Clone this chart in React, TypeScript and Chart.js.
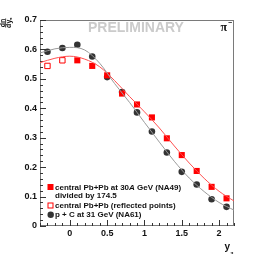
import React, { useEffect, useRef } from "react";
import { Chart, registerables } from "chart.js";

Chart.register(...registerables);

// ---- data ----
const na61Rapidity = [-0.3, -0.1, 0.1, 0.3, 0.5, 0.7, 0.9, 1.1, 1.3, 1.5, 1.7, 1.9, 2.1];
const na61Values = [0.592, 0.605, 0.616, 0.576, 0.506, 0.455, 0.386, 0.321, 0.25, 0.184, 0.141, 0.091, 0.065];

const na49Rapidity = [0.1, 0.3, 0.5, 0.7, 0.9, 1.1, 1.3, 1.5, 1.7, 1.9, 2.1];
const na49Values = [0.563, 0.544, 0.512, 0.45, 0.413, 0.369, 0.298, 0.241, 0.187, 0.133, 0.094];

const reflectedRapidity = [-0.3, -0.1];
const reflectedValues = [0.544, 0.563];

const fitRapidity = [-0.4, -0.2, 0, 0.2, 0.4, 0.6, 0.8, 1.0, 1.2, 1.4, 1.6, 1.8, 2.0, 2.2];
const na61Fit = [0.588, 0.602, 0.607, 0.598, 0.553, 0.484, 0.42, 0.352, 0.285, 0.22, 0.163, 0.117, 0.08, 0.054];
const na49Fit = [0.555, 0.57, 0.577, 0.567, 0.541, 0.494, 0.44, 0.388, 0.333, 0.272, 0.214, 0.162, 0.118, 0.085];

const yTickValues = [0, 0.1, 0.2, 0.3, 0.4, 0.5, 0.6, 0.7];
const yTickLabels = ["0", "0.1", "0.2", "0.3", "0.4", "0.5", "0.6", "0.7"];
const xTickValues = [0, 0.5, 1, 1.5, 2];
const xTickLabels = ["0", "0.5", "1", "1.5", "2"];

const legendLine1 = ["central Pb+Pb at 30", "A", " GeV (NA49)"];
const legendLine2 = "divided by 174.5";
const legendLine3 = "central Pb+Pb (reflected points)";
const legendLine4 = "p + C at 31 GeV (NA61)";
const watermark = "PRELIMINARY";

const SANS = "'Liberation Sans', Arial, Helvetica, sans-serif";
const SERIF = "'Liberation Serif', 'Times New Roman', serif";

const toPoints = (xs: number[], ys: number[]) => xs.map((x, i) => ({ x, y: ys[i] }));

const decorPlugin = {
  id: "decor",
  beforeDatasetsDraw(chart: any) {
    const ctx = chart.ctx as CanvasRenderingContext2D;
    const { left, right, top, bottom } = chart.chartArea;
    const xs = chart.scales.x;
    const ys = chart.scales.y;
    ctx.save();
    // frame
    ctx.strokeStyle = "#7a7a7a";
    ctx.lineWidth = 1;
    ctx.strokeRect(Math.round(left) + 0.5, Math.round(top) + 0.5, Math.round(right - left) - 1, Math.round(bottom - top) - 1);
    // y ticks (inside)
    ctx.strokeStyle = "#333";
    ctx.beginPath();
    for (let i = 0; i <= 35; i++) {
      const v = i * 0.02;
      const py = Math.round(ys.getPixelForValue(v)) + 0.5;
      const len = i % 5 === 0 ? 6 : 3;
      ctx.moveTo(left, py);
      ctx.lineTo(left + len, py);
    }
    // x ticks (inside)
    for (let i = -4; i <= 22; i++) {
      const v = i * 0.1;
      const px = Math.round(xs.getPixelForValue(v)) + 0.5;
      const len = i % 5 === 0 ? 6 : 3;
      ctx.moveTo(px, bottom);
      ctx.lineTo(px, bottom - len);
    }
    ctx.stroke();
    ctx.restore();
  },
  afterDraw(chart: any) {
    const ctx = chart.ctx as CanvasRenderingContext2D;
    const { left, bottom } = chart.chartArea;
    const xs = chart.scales.x;
    const ys = chart.scales.y;
    ctx.save();
    ctx.fillStyle = "#111";
    // y tick labels
    ctx.font = `bold 9px ${SANS}`;
    ctx.textAlign = "right";
    ctx.textBaseline = "middle";
    yTickValues.forEach((v, i) => {
      ctx.fillText(yTickLabels[i], left - 3, ys.getPixelForValue(v));
    });
    // x tick labels
    ctx.textAlign = "center";
    xTickValues.forEach((v, i) => {
      ctx.fillText(xTickLabels[i], xs.getPixelForValue(v), bottom + 7.5);
    });
    // x title
    ctx.textBaseline = "alphabetic";
    ctx.textAlign = "left";
    ctx.font = `bold 10px ${SANS}`;
    ctx.fillText("y", 224.5, 250);
    ctx.font = `bold 5px ${SERIF}`;
    ctx.fillText("π", 230.5, 254);
    // y title (rotated fraction)
    ctx.save();
    ctx.translate(5.3, 23);
    ctx.rotate(-Math.PI / 2);
    ctx.textAlign = "center";
    ctx.font = `bold 7px ${SANS}`;
    ctx.fillText("dn", 0, -0.6);
    ctx.fillRect(-4.5, 0, 9, 0.8);
    ctx.fillText("dy", -0.8, 5.2);
    ctx.textAlign = "left";
    ctx.font = `bold 4.5px ${SERIF}`;
    ctx.fillText("π", 3, 6.8);
    ctx.restore();
    // watermark
    ctx.fillStyle = "#cbcbcb";
    ctx.font = `bold 14px ${SANS}`;
    ctx.fillText(watermark, 88, 32.3);
    // pi minus
    ctx.fillStyle = "#111";
    ctx.font = `bold 12px ${SERIF}`;
    ctx.fillText("π", 220.5, 30.5);
    ctx.font = `bold 7px ${SANS}`;
    ctx.fillText("−", 228, 24.5);
    // legend
    const tx = 55;
    ctx.textBaseline = "middle";
    let x = tx;
    legendLine1.forEach((part, i) => {
      ctx.font = i === 1 ? `italic bold 8px ${SANS}` : `bold 8px ${SANS}`;
      ctx.fillText(part, x, 187.3);
      x += ctx.measureText(part).width;
    });
    ctx.font = `bold 8px ${SANS}`;
    ctx.fillText(legendLine2, tx, 195.5);
    ctx.fillText(legendLine3, tx, 206);
    ctx.fillText(legendLine4, tx, 214.7);
    // legend markers
    ctx.fillStyle = "#ff0000";
    ctx.fillRect(47.5, 184, 6, 6);
    ctx.strokeStyle = "#ff0000";
    ctx.lineWidth = 1;
    ctx.fillStyle = "#fff";
    ctx.fillRect(48, 203, 5, 5);
    ctx.strokeRect(48, 203, 5, 5);
    ctx.fillStyle = "#333";
    ctx.beginPath();
    ctx.arc(50.7, 214.7, 3.2, 0, Math.PI * 2);
    ctx.fill();
    ctx.restore();
  },
};

export default function App() {
  const ref = useRef<HTMLCanvasElement | null>(null);
  useEffect(() => {
    document.body.style.margin = "0";
    if (!ref.current) return;
    const chart = new Chart(ref.current, {
      type: "scatter",
      data: {
        datasets: [
          {
            label: "NA61 fit",
            data: toPoints(fitRapidity, na61Fit),
            showLine: true,
            borderColor: "#9a9a9a",
            borderWidth: 1,
            pointRadius: 0,
            cubicInterpolationMode: "monotone",
          },
          {
            label: "NA49 fit",
            data: toPoints(fitRapidity, na49Fit),
            showLine: true,
            borderColor: "#ff5050",
            borderWidth: 1,
            pointRadius: 0,
            cubicInterpolationMode: "monotone",
          },
          {
            label: "central Pb+Pb at 30A GeV (NA49)",
            data: toPoints(na49Rapidity, na49Values),
            pointStyle: "rect",
            pointRadius: 4.3,
            backgroundColor: "#ff0000",
            borderColor: "#ff0000",
            borderWidth: 0,
          },
          {
            label: "central Pb+Pb (reflected points)",
            data: toPoints(reflectedRapidity, reflectedValues),
            pointStyle: "rect",
            pointRadius: 3.8,
            backgroundColor: "#ffffff",
            borderColor: "#ff0000",
            borderWidth: 1,
          },
          {
            label: "p + C at 31 GeV (NA61)",
            data: toPoints(na61Rapidity, na61Values),
            pointStyle: "circle",
            pointRadius: 3.3,
            backgroundColor: "#333333",
            borderColor: "#333333",
            borderWidth: 0,
          },
        ],
      },
      options: {
        animation: false,
        responsive: false,
        events: [],
        layout: { padding: { left: 40, top: 20, right: 32, bottom: 32 } },
        plugins: { legend: { display: false }, tooltip: { enabled: false } },
        scales: {
          x: { type: "linear", min: -0.4, max: 2.2, display: false },
          y: { type: "linear", min: 0, max: 0.7, display: false },
        },
      },
      plugins: [decorPlugin],
    });
    return () => chart.destroy();
  }, []);
  return <canvas ref={ref} width={266} height={258} style={{ display: "block" }} />;
}
